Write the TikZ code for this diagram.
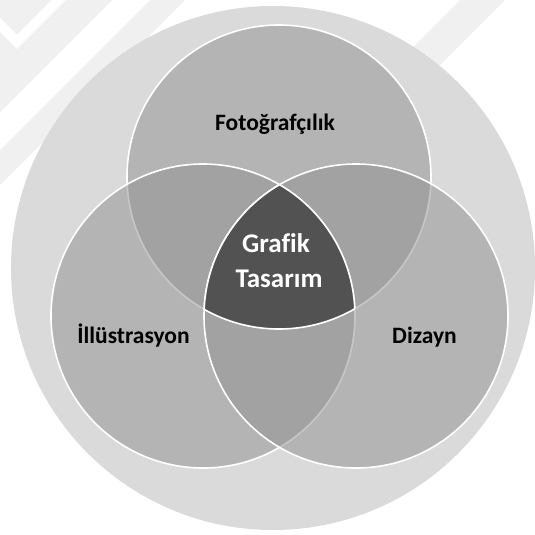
\documentclass[tikz,border=0pt]{standalone}
\usepackage{fontspec}
\setmainfont[Ligatures=NoCommon]{Carlito}
\begin{document}
\begin{tikzpicture}[x=1pt,y=-1pt]
\useasboundingbox (0,0) rectangle (535,535);
\definecolor{bigc}{gray}{0.855}
\definecolor{circc}{gray}{0.57}
\definecolor{corec}{gray}{0.32}
\definecolor{wmark}{gray}{0.94}
\tikzset{
  ring/.style={draw=white, line width=1.6pt, fill=circc, fill opacity=0.51},
  edge/.style={draw=white, line width=1.6pt},
  lab/.style={font=\bfseries\fontsize{23.5}{28}\selectfont, text=black, anchor=base, inner sep=0pt},
  corelab/.style={font=\bfseries\fontsize{27}{33}\selectfont, text=white, anchor=base, inner sep=0pt}
}
% faint watermark bands
\fill[wmark] (0,0) -- (112,0) -- (0,112) -- cycle;
\fill[white] (0,18) -- (17,35) -- (52,0) -- (66,0) -- (17,49) -- (0,32) -- cycle;
\fill[wmark] (0,150) -- (150,0) -- (185,0) -- (0,185) -- cycle;
\fill[wmark] (400,60) -- (460,0) -- (505,0) -- (430,75) -- cycle;
\coordinate (O) at (273,268);
\coordinate (T) at (279,177);
\coordinate (L) at (203,316);
\coordinate (R) at (356,316);
\fill[bigc] (O) circle (262);
\path[ring] (T) circle (152);
\path[ring] (L) circle (152);
\path[ring] (R) circle (152);
\begin{scope}
  \clip (T) circle (152);
  \clip (L) circle (152);
  \fill[corec] (R) circle (152);
\end{scope}
\begin{scope}
  \clip (T) circle (152);
  \clip (L) circle (152);
  \path[edge] (R) circle (152);
\end{scope}
\begin{scope}
  \clip (T) circle (152);
  \clip (R) circle (152);
  \path[edge] (L) circle (152);
\end{scope}
\begin{scope}
  \clip (L) circle (152);
  \clip (R) circle (152);
  \path[edge] (T) circle (152);
\end{scope}
\node[lab] (foto) at (275,130) {Fotoğrafçılık};
\node[lab] (ill) at (133.5,343) {İllüstrasyon};
\node[lab] (diz) at (424.5,343) {Dizayn};
\node[corelab] (graf) at (276,252) {Grafik};
\node[corelab] (tas) at (279,287) {Tasarım};
\end{tikzpicture}
\end{document}
